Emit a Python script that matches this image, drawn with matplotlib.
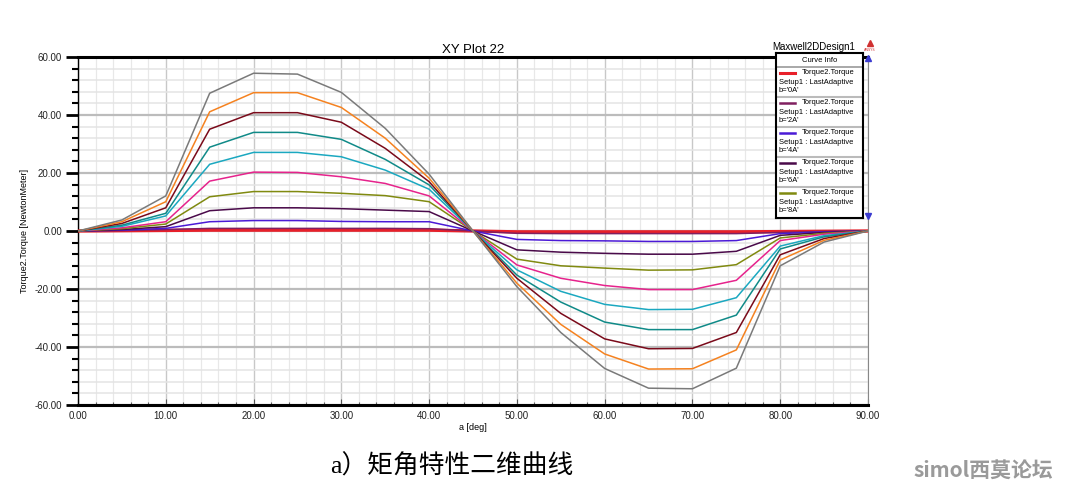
import numpy as np
import matplotlib
matplotlib.use('Agg')
import matplotlib.pyplot as plt
from matplotlib.ticker import MultipleLocator, FormatStrFormatter
from matplotlib.lines import Line2D

# Datos: angulo a [deg] y par para cada corriente b
angulo = [0, 5, 10, 15, 20, 25, 30, 35, 40, 45, 50, 55, 60, 65, 70, 75, 80, 85, 90]

t_0A = [0, 0.1, 0.2, 0.3, 0.3, 0.3, 0.3, 0.3, 0.3, 0, -0.3, -0.3, -0.3, -0.3, -0.3, -0.3, -0.2, -0.1, 0]
t_2A = [0, 0.15, 0.5, 0.9, 0.9, 0.9, 0.9, 0.9, 0.8, 0, -0.8, -0.9, -0.9, -0.9, -0.9, -0.9, -0.5, -0.15, 0]
t_4A = [0, 0.3, 0.9, 3.2, 3.6, 3.6, 3.3, 3.2, 3.2, 0, -2.9, -3.3, -3.4, -3.6, -3.6, -3.3, -0.9, -0.3, 0]
t_6A = [0, 0.5, 1.5, 7.0, 8.0, 8.0, 7.7, 7.2, 6.7, 0, -6.5, -7.3, -7.7, -8.0, -8.0, -7.0, -1.5, -0.5, 0]
t_8A = [0, 0.8, 2.4, 11.8, 13.6, 13.6, 13.0, 12.2, 10.1, 0, -9.7, -12.0, -12.8, -13.5, -13.4, -11.6, -2.4, -0.8, 0]
t_10A = [0, 1.1, 3.2, 17.2, 20.3, 20.2, 18.7, 16.4, 12.1, 0, -11.7, -16.3, -18.8, -20.2, -20.2, -17.0, -3.3, -1.1, 0]
t_12A = [0, 1.6, 5.2, 23.0, 27.1, 27.1, 25.6, 21.0, 14.4, 0, -13.4, -20.8, -25.3, -27.1, -27.0, -23.0, -5.2, -1.6, 0]
t_14A = [0, 2.0, 6.1, 28.9, 34.0, 34.0, 31.6, 24.7, 15.9, 0, -15.2, -24.5, -31.4, -34.0, -34.0, -29.0, -6.2, -2.0, 0]
t_16A = [0, 2.6, 8.0, 35.1, 40.8, 40.8, 37.5, 28.5, 17.0, 0, -16.3, -28.4, -37.2, -40.6, -40.5, -35.0, -8.2, -2.6, 0]
t_18A = [0, 3.2, 10.1, 41.1, 47.7, 47.7, 42.6, 32.0, 18.2, 0, -18.0, -32.2, -42.4, -47.6, -47.5, -41.0, -10.0, -3.2, 0]
t_20A = [0, 3.8, 12.1, 47.5, 54.4, 54.1, 47.8, 35.4, 19.6, 0, -19.2, -35.0, -47.4, -54.2, -54.4, -47.3, -12.0, -3.8, 0]

curvas = [t_0A, t_2A, t_4A, t_6A, t_8A, t_10A, t_12A, t_14A, t_16A, t_18A, t_20A]
corrientes = ["0A", "2A", "4A", "6A", "8A", "10A", "12A", "14A", "16A", "18A", "20A"]
colores = ['#e8202a', '#802060', '#4b1ad6', '#4a0a4a', '#808a10', '#e6238c',
           '#1ba8c0', '#108a88', '#7a0a1a', '#f58220', '#7a7a7a']

W, H = 1086, 488
fig = plt.figure(figsize=(W / 100, H / 100), dpi=100)
ax = fig.add_axes([78 / W, 1 - 405 / H, 790 / W, 348 / H])

# Curvas (la de 0A mas gruesa, como en Maxwell)
for i, (t, c) in enumerate(zip(curvas, colores)):
    lw = 2.4 if i == 0 else 1.1
    ax.plot(angulo, t, color=c, lw=lw, zorder=3 + (0 if i == 0 else 1))

ax.set_xlim(0, 90)
ax.set_ylim(-60, 60)
ax.xaxis.set_major_locator(MultipleLocator(10))
ax.xaxis.set_minor_locator(MultipleLocator(2))
ax.yaxis.set_major_locator(MultipleLocator(20))
ax.yaxis.set_minor_locator(MultipleLocator(4))
ax.xaxis.set_major_formatter(FormatStrFormatter('%.2f'))
ax.yaxis.set_major_formatter(FormatStrFormatter('%.2f'))

ax.tick_params(axis='y', which='major', direction='out', length=8.5, width=2,
               labelsize=7, pad=3)
ax.tick_params(axis='y', which='minor', direction='out', length=4.3, width=1.5)
ax.tick_params(axis='x', which='major', direction='in', length=4, width=0.8,
               color='#555555', labelsize=7, pad=4)
ax.tick_params(axis='x', which='minor', direction='in', length=2.5, width=0.8,
               color='#555555')
for lab in ax.get_xticklabels() + ax.get_yticklabels():
    lab.set_family('Liberation Sans')
    lab.set_color('#222222')

# Rejilla
ax.yaxis.grid(True, which='major', color='#bcbcbc', lw=1.6)
ax.yaxis.grid(True, which='minor', color='#e4e4e4', lw=1.1)
ax.xaxis.grid(True, which='major', color='#c8c8c8', lw=1.0)
ax.xaxis.grid(True, which='minor', color='#e8e8e8', lw=0.9)
ax.set_axisbelow(True)

ax.spines['top'].set_linewidth(2.2)
ax.spines['bottom'].set_linewidth(2.2)
ax.spines['left'].set_linewidth(1.0)
ax.spines['right'].set_linewidth(0.8)
ax.spines['right'].set_color('#888888')

ax.set_xlabel('a [deg]', fontsize=6.5, family='Liberation Sans', labelpad=2)
ax.set_ylabel('Torque2.Torque [NewtonMeter]', fontsize=6.5, family='Liberation Sans',
              labelpad=4)
ax.set_title('XY Plot 22', fontsize=9.5, family='Liberation Sans', pad=3)

fig.text(814 / W, 1 - 47 / H, 'Maxwell2DDesign1', fontsize=7, family='Liberation Sans',
         ha='center', va='center')

# Logo ANSYS y barra de desplazamiento
fig.add_artist(Line2D([870 / W], [1 - 43 / H], marker='^', color='#d03030', ms=5, lw=0))
fig.text(870 / W, 1 - 50 / H, 'ANSYS', fontsize=2.5, color='#d03030', ha='center', va='center')
fig.add_artist(Line2D([868 / W], [1 - 58 / H], marker='^', color='#3a3ad0', ms=4, lw=0))
fig.add_artist(Line2D([868 / W], [1 - 216 / H], marker='v', color='#3a3ad0', ms=4, lw=0))

# Cuadro "Curve Info"
lg = fig.add_axes([776 / W, 1 - 218 / H, 87 / W, 165 / H])
lg.set_xlim(0, 87)
lg.set_ylim(165, 0)
lg.set_xticks([])
lg.set_yticks([])
for s in lg.spines.values():
    s.set_linewidth(1.5)
lg.text(43.5, 7.5, 'Curve Info', fontsize=5.5, family='Liberation Sans', ha='center', va='center')
lg.axhline(14, color='#999999', lw=1.2)
for i in range(5):
    y0 = 14 + 30 * i
    lg.plot([4, 19], [y0 + 6, y0 + 6], color=colores[i], lw=2.2 if i == 0 else 1.8)
    lg.text(26, y0 + 6, 'Torque2.Torque', fontsize=5.4, family='Liberation Sans', va='center')
    lg.text(3, y0 + 15.5, 'Setup1 : LastAdaptive', fontsize=5.4, family='Liberation Sans', va='center')
    lg.text(3, y0 + 24, "b='%s'" % corrientes[i], fontsize=5.4, family='Liberation Sans', va='center')
    if i < 4:
        lg.axhline(y0 + 30, color='#bbbbbb', lw=1.5)

# Pie de figura y marca de agua
fig.text(452 / W, 1 - 466 / H, 'a）矩角特性二维曲线', fontsize=18.5,
         family=['Liberation Serif', 'Noto Sans CJK SC'], ha='center', va='center')
fig.text(983 / W, 1 - 470 / H, 'simol西莫论坛', fontsize=15, fontweight='bold',
         family=['Noto Sans CJK SC'], color='#9a9a9a', ha='center', va='center')

fig.savefig('out.png', dpi=100)
plt.close(fig)
